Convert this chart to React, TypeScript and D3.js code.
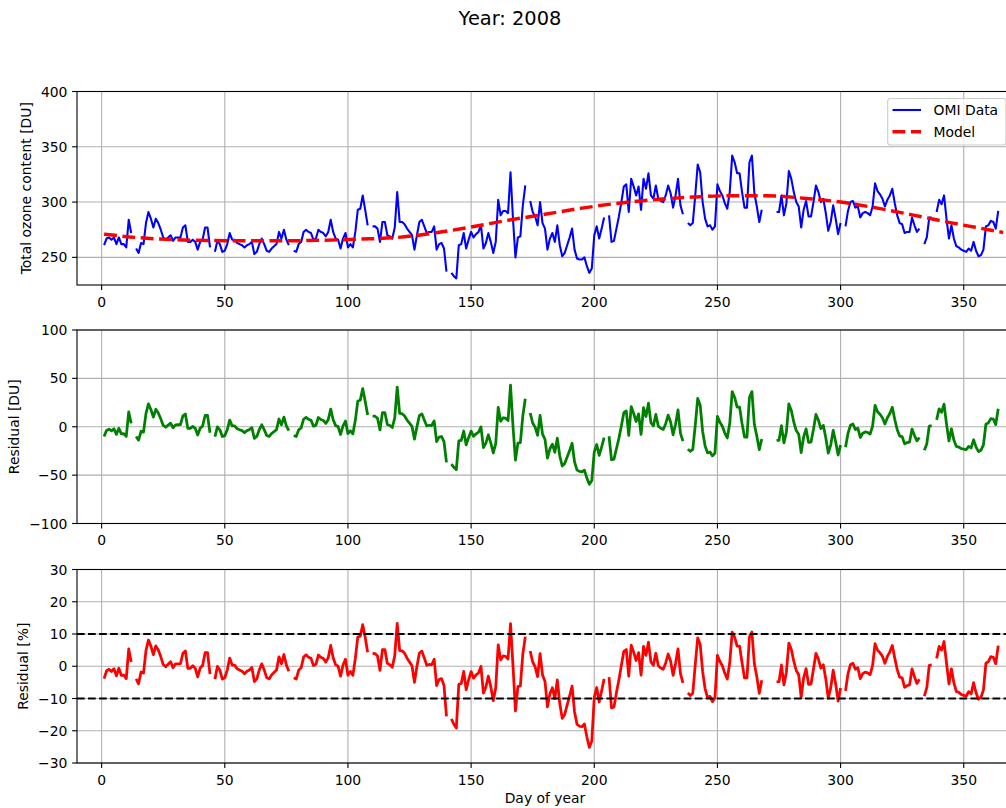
import React from "react";
import * as d3 from "d3";

// Daily OMI total ozone column [DU], day of year 1..364 (null = no overpass data)
const OMI_DU: (number | null)[] = [
  261, 267, 268, 266, 268, 262, 268, 262, 262, 259,
  284, 272, null, 258, 254, 263, 262, 281, 291, 285,
  277, 285, 281, 275, 268, 266, 268, 270, 265, 268,
  268, 268, 277, 279, 264, 264, 266, 264, 257, 264,
  266, 277, 277, 259, null, 255, 265, 262, 255, 256,
  262, 272, 266, 266, 263, 262, 261, 259, 261, 262,
  264, 253, 255, 262, 267, 262, 256, 255, 258, 260,
  262, 273, 267, 275, 266, 261, null, 256, 255, 262,
  264, 273, 275, 273, 272, 266, 267, 275, 273, 272,
  269, 273, 284, 273, 267, 266, 258, 267, 272, 259,
  262, 259, 273, 293, 294, 306, 293, 279, null, 278,
  278, 276, 264, 282, 282, 270, 269, 267, 277, 309,
  282, 282, 280, 276, 273, 270, 257, 270, 282, 284,
  278, 272, 273, 273, 278, 257, 262, 263, 258, 237,
  null, 236, 233, 231, 261, 262, 272, 258, 266, 273,
  268, 271, 273, 279, 258, 263, 272, 264, 254, 264,
  302, 288, 292, 292, 290, 327, 285, 250, 268, 269,
  297, 315, null, 301, 291, 287, 279, 300, 281, 276,
  257, 267, 272, 264, 279, 261, 251, 254, 261, 268,
  276, 257, 249, 248, 248, 250, 242, 236, 240, 270,
  278, 267, 276, 286, null, 288, 264, 265, 276, 287,
  300, 314, 316, 291, 321, 314, 306, 314, 293, 321,
  312, 326, 306, 303, 315, 303, 301, 300, 306, 315,
  308, 295, 306, 321, 297, 289, null, 281, 279, 281,
  306, 334, 327, 300, 285, 278, 279, 275, 278, 316,
  310, 306, 299, 294, 309, 342, 336, 326, 326, 309,
  295, 295, 336, 342, 308, 296, 282, 293, null, null,
  null, null, null, 291, 291, 306, 288, 299, 328, 321,
  309, 300, 296, 277, 293, 301, 287, 287, 300, 315,
  309, 300, 303, 290, 274, 282, 297, 285, 271, 281,
  null, 278, 292, 300, 301, 295, 296, 286, 290, 291,
  290, 288, 296, 317, 310, 307, 303, 296, 302, 306,
  312, 299, 288, 281, 280, 272, 273, 273, 286, 279,
  273, 276, null, 262, 268, 286, 286, null, 291, 302,
  298, 306, 285, 267, 279, 267, 260, 259, 257, 256,
  255, 258, 256, 264, 256, 251, 252, 257, 278, 279,
  283, 282, 276, 292,
];

// Seasonal model [DU] sampled through the year
const MODEL_DAYS = [1, 15, 30, 45, 60, 75, 90, 105, 120, 135, 150, 165, 180, 195,
  210, 225, 240, 255, 270, 285, 300, 315, 330, 345, 360, 366];
const MODEL_DU = [271, 267.8, 266, 265.2, 265, 265, 265.5, 266.5, 268, 272, 277.5, 283.5, 289, 294.5,
  299, 302.3, 304.5, 305.7, 305.7, 303.5, 300, 294.5, 288, 281.2, 275, 272.5];

const DAY_TICKS = [0, 50, 100, 150, 200, 250, 300, 350];
const OZONE_TICKS = [250, 300, 350, 400];
const RESID_DU_TICKS = [-100, -50, 0, 50, 100];
const RESID_PCT_TICKS = [-30, -20, -10, 0, 10, 20, 30];
const PCT_LIMITS = [-10, 10];
const TITLE = "Year: 2008";
const LEGEND = ["OMI Data", "Model"];

const W = 1006;
const H = 808;
const FONT = "'DejaVu Sans', sans-serif";
const FS = 13.9;
const GRID = "#b0b0b0";

const fmt = (v: number) => (v < 0 ? "\u2212" + Math.abs(v) : String(v));

type Pt = { day: number; v: number | null };

function Axes(props: {
  x: d3.ScaleLinear<number, number>;
  y: d3.ScaleLinear<number, number>;
  yTicks: number[];
  ylabel: string;
  labelX: number;
  children?: React.ReactNode;
}) {
  const { x, y, yTicks, ylabel, labelX, children } = props;
  const [x0, x1] = x.range();
  const [yb, yt] = y.range();
  return (
    <g>
      {DAY_TICKS.map((t) => (
        <line key={"gx" + t} x1={x(t)} x2={x(t)} y1={yt} y2={yb} stroke={GRID} strokeWidth={1.1} />
      ))}
      {yTicks.map((t) => (
        <line key={"gy" + t} x1={x0} x2={x1} y1={y(t)} y2={y(t)} stroke={GRID} strokeWidth={1.1} />
      ))}
      {children}
      <rect x={x0} y={yt} width={x1 - x0} height={yb - yt} fill="none" stroke="#000" strokeWidth={1.1} />
      {DAY_TICKS.map((t) => (
        <g key={"tx" + t}>
          <line x1={x(t)} x2={x(t)} y1={yb} y2={yb + 4.9} stroke="#000" strokeWidth={1.1} />
          <text x={x(t)} y={yb + 21.5} textAnchor="middle" fontSize={FS}>
            {fmt(t)}
          </text>
        </g>
      ))}
      {yTicks.map((t) => (
        <g key={"ty" + t}>
          <line x1={x0 - 4.9} x2={x0} y1={y(t)} y2={y(t)} stroke="#000" strokeWidth={1.1} />
          <text x={x0 - 9.6} y={y(t)} dy="0.36em" textAnchor="end" fontSize={FS}>
            {fmt(t)}
          </text>
        </g>
      ))}
      <text
        transform={`translate(${labelX},${(yt + yb) / 2}) rotate(-90)`}
        textAnchor="middle"
        dy="0.27em"
        fontSize={FS}
      >
        {ylabel}
      </text>
    </g>
  );
}

export default function App() {
  const x = d3.scaleLinear().domain([-10, 370]).range([77, 1013]);
  const yOzone = d3.scaleLinear().domain([225, 400]).range([285, 91.5]);
  const yDU = d3.scaleLinear().domain([-100, 100]).range([523.5, 330]);
  const yPct = d3.scaleLinear().domain([-30, 30]).range([763, 569.5]);

  const modelAt = d3.scaleLinear().domain(MODEL_DAYS).range(MODEL_DU);

  const omi: Pt[] = OMI_DU.map((v, i) => ({ day: i + 1, v }));
  const residDU: Pt[] = omi.map((p) => ({ day: p.day, v: p.v == null ? null : p.v - modelAt(p.day) }));
  const residPct: Pt[] = omi.map((p) => ({
    day: p.day,
    v: p.v == null ? null : ((p.v - modelAt(p.day)) / p.v) * 100,
  }));
  const model: Pt[] = MODEL_DAYS.map((d, i) => ({ day: d, v: MODEL_DU[i] }));

  const lineFor = (y: d3.ScaleLinear<number, number>) =>
    d3
      .line<Pt>()
      .defined((p) => p.v != null)
      .x((p) => x(p.day))
      .y((p) => y(p.v as number));

  const modelPath = lineFor(yOzone).curve(d3.curveMonotoneX)(model) || "";
  const [xl, xr] = x.range();

  // legend geometry
  const lgX = 887.7;
  const lgY = 98.5;
  const lgW = 1006 - 887.7;
  const lgH = 46.5;
  const rows = [110, 131.7];

  return (
    <svg
      width={W}
      height={H}
      viewBox={`0 0 ${W} ${H}`}
      style={{ position: "absolute", left: 0, top: 0, display: "block" }}
      fontFamily={FONT}
      fill="#000"
    >
      <rect x={0} y={0} width={W} height={H} fill="#fff" />
      <text x={510} y={25} textAnchor="middle" fontSize={19.4}>
        {TITLE}
      </text>

      <Axes x={x} y={yOzone} yTicks={OZONE_TICKS} ylabel="Total ozone content [DU]" labelX={27}>
        <path d={lineFor(yOzone)(omi) || ""} fill="none" stroke="#0000ff" strokeWidth={2.08} strokeLinejoin="round" />
        <path d={modelPath} fill="none" stroke="#ff0000" strokeWidth={3.47} strokeDasharray="12.85 5.55" />
      </Axes>

      <Axes x={x} y={yDU} yTicks={RESID_DU_TICKS} ylabel="Residual [DU]" labelX={15.5}>
        <path d={lineFor(yDU)(residDU) || ""} fill="none" stroke="#008000" strokeWidth={2.78} strokeLinejoin="round" />
      </Axes>

      <Axes x={x} y={yPct} yTicks={RESID_PCT_TICKS} ylabel="Residual [%]" labelX={24}>
        <path d={lineFor(yPct)(residPct) || ""} fill="none" stroke="#ff0000" strokeWidth={2.78} strokeLinejoin="round" />
        {PCT_LIMITS.map((v) => (
          <line key={"lim" + v} x1={xl} x2={xr} y1={yPct(v)} y2={yPct(v)} stroke="#000" strokeWidth={2.08} strokeDasharray="7.7 3.33" />
        ))}
      </Axes>

      <text x={545} y={803} textAnchor="middle" fontSize={FS}>
        Day of year
      </text>

      <g>
        <rect x={lgX} y={lgY} width={lgW} height={lgH} rx={2.8} fill="#fff" fillOpacity={0.8} stroke="#cccccc" strokeWidth={1.1} />
        <line x1={892.5} x2={921} y1={rows[0]} y2={rows[0]} stroke="#0000ff" strokeWidth={2.08} />
        <line x1={892.5} x2={921} y1={rows[1]} y2={rows[1]} stroke="#ff0000" strokeWidth={3.47} strokeDasharray="12.85 5.55" />
        {LEGEND.map((s, i) => (
          <text key={s} x={933.5} y={rows[i]} dy="0.36em" fontSize={FS}>
            {s}
          </text>
        ))}
      </g>
    </svg>
  );
}
